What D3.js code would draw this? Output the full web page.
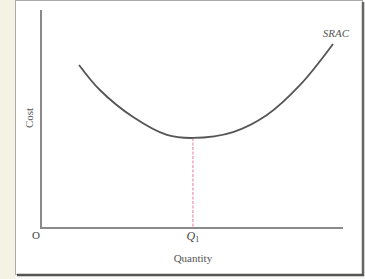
<!DOCTYPE html>
<html><head><meta charset="utf-8">
<script src="https://cdn.jsdelivr.net/npm/d3@7"></script>
<style>body{margin:0;background:#f4f2e2;}svg{display:block;}</style>
</head><body>
<svg id="c" width="365" height="279"></svg>
<script>
const quantity = [12.6, 19.5, 30.5, 41.7, 50.3, 63.6, 74.8, 85.8, 96.7];
const cost =     [74.8, 63.3, 50.9, 42.7, 41.3, 44.0, 51.8, 65.6, 84.4];
const q1 = 50.3;
const curveLabel = "SRAC";
const xTitle = "Quantity";
const yTitle = "Cost";

const svg = d3.select("#c");
svg.append("rect").attr("x",15).attr("y",0).attr("width",350).attr("height",279).attr("fill","#f8f8f6");
svg.append("rect").attr("x",15.5).attr("y",0.5).attr("width",347).attr("height",274).attr("fill","#fff").attr("stroke","#aaa").attr("stroke-width",1);
svg.append("line").attr("x1",363).attr("x2",363).attr("y1",2).attr("y2",276).attr("stroke","#666").attr("stroke-width",2.5);
svg.append("line").attr("x1",17).attr("x2",364).attr("y1",275).attr("y2",275).attr("stroke","#555").attr("stroke-width",2.5);

const x = d3.scaleLinear().domain([0,100]).range([41,343]);
const y = d3.scaleLinear().domain([0,100]).range([228,10]);

svg.append("line").attr("x1",x(0)).attr("x2",x(0)).attr("y1",y(100)).attr("y2",y(0)).attr("stroke","#8a8a8a").attr("stroke-width",2);
svg.append("line").attr("x1",x(0)-1).attr("x2",x(100)).attr("y1",y(0)).attr("y2",y(0)).attr("stroke","#8a8a8a").attr("stroke-width",2);

const pts = quantity.map((q,i)=>[q,cost[i]]);
const line = d3.line().x(d=>x(d[0])).y(d=>y(d[1])).curve(d3.curveCatmullRom.alpha(0.5));
const minCost = d3.min(cost);

svg.append("line").attr("x1",x(q1)).attr("x2",x(q1)).attr("y1",y(minCost)).attr("y2",y(0)-1)
  .attr("stroke","#f2a6c4").attr("stroke-width",1.5).attr("stroke-dasharray","3,1.5");

svg.append("path").attr("d",line(pts)).attr("fill","none").attr("stroke","#555").attr("stroke-width",1.8);

const font = "'Liberation Serif','Times New Roman',serif";
svg.append("text").attr("x",36).attr("y",239).attr("text-anchor","middle").attr("font-family",font).attr("font-size",11).attr("fill","#444").text("O");
const qt = svg.append("text").attr("x",x(q1)).attr("y",240).attr("text-anchor","middle").attr("font-family",font).attr("font-size",12).attr("fill","#444");
qt.append("tspan").attr("font-style","italic").text("Q");
qt.append("tspan").attr("font-size",8).attr("dy",2).text("1");
svg.append("text").attr("x",x(q1)).attr("y",262).attr("text-anchor","middle").attr("font-family",font).attr("font-size",11).attr("fill","#555").text(xTitle);
svg.append("text").attr("transform","translate(33,118) rotate(-90)").attr("text-anchor","middle").attr("font-family",font).attr("font-size",11).attr("fill","#555").text(yTitle);
svg.append("text").attr("x",336).attr("y",37).attr("text-anchor","middle").attr("font-family",font).attr("font-style","italic").attr("font-size",11).attr("fill","#555").text(curveLabel);
</script>
</body></html>
